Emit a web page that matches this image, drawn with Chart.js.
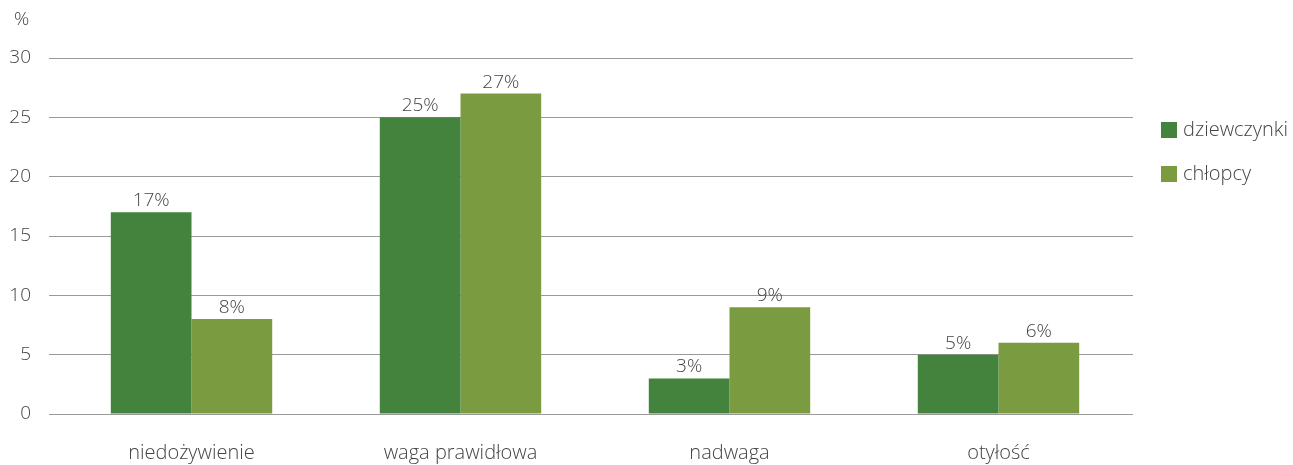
<!DOCTYPE html>
<html>
<head>
<meta charset="utf-8">
<script src="https://cdn.jsdelivr.net/npm/chart.js@4/dist/chart.umd.min.js"></script>
<style>
  html, body { margin: 0; padding: 0; background: #fff; }
  #wrap { width: 1293px; height: 465px; position: relative; }
</style>
</head>
<body>
<div id="wrap"><canvas id="myChart"></canvas></div>
<script>
let categories = ["niedożywienie", "waga prawidłowa", "nadwaga", "otyłość"];
let girls = [17, 25, 3, 5];
let boys = [8, 27, 9, 6];
let y_ticks = [0, 5, 10, 15, 20, 25, 30];

const FONT = "'Open Sans', 'DejaVu Sans', sans-serif";
const TEXT = '#444444';

/** value labels above each bar, e.g. "17%" */
const bar_labels = {
    id: 'bar_labels',
    afterDatasetsDraw(chart) {
        const ctx = chart.ctx;
        ctx.save();
        ctx.font = '300 19px ' + FONT;
        ctx.fillStyle = TEXT;
        ctx.textAlign = 'center';
        ctx.textBaseline = 'bottom';
        chart.data.datasets.forEach((ds, i) => {
            chart.getDatasetMeta(i).data.forEach((bar, j) => {
                ctx.fillText(ds.data[j] + '%', bar.x, bar.y - 2);
            });
        });
        ctx.restore();
    }
};

/** "%" unit on top of the y axis and the legend on the right */
const extras = {
    id: 'extras',
    afterDraw(chart) {
        const ctx = chart.ctx;
        ctx.save();
        ctx.font = '300 19px ' + FONT;
        ctx.fillStyle = TEXT;
        ctx.textAlign = 'left';
        ctx.textBaseline = 'middle';
        ctx.fillText('%', 14, 20);

        ctx.font = '300 20px ' + FONT;
        chart.data.datasets.forEach((ds, i) => {
            let y = 130 + i * 44;
            ctx.fillStyle = ds.backgroundColor;
            ctx.fillRect(1161, y - 8, 16, 16);
            ctx.fillStyle = TEXT;
            ctx.fillText(ds.label, 1183, y);
        });
        ctx.restore();
    }
};

function bar_set(name, values, color) {
    return {
        label: name,
        data: values,
        backgroundColor: color,
        categoryPercentage: 0.6,
        barPercentage: 1.0,
    }
}

let ctx = document.getElementById('myChart').getContext('2d');
let myChart = new Chart(ctx, {
    type: 'bar',
    data: {
        labels: categories,
        datasets: [
            bar_set("dziewczynki", girls, '#43833d'),
            bar_set("chłopcy", boys, '#7a9b3f')
        ]
    },
    options: {
        responsive: true,
        maintainAspectRatio: false,
        animation: false,
        layout: { padding: { top: 58, right: 160, bottom: 0, left: 0 } },
        plugins: {
            legend: { display: false },
            tooltip: { enabled: false }
        },
        scales: {
            x: {
                afterFit(scale) { scale.height = 51; },
                grid: { display: false },
                border: { display: false },
                ticks: {
                    color: TEXT,
                    padding: 19,
                    font: { family: FONT, size: 20, weight: 300 }
                }
            },
            y: {
                min: 0,
                max: 30,
                afterFit(scale) { scale.width = 57; },
                afterBuildTicks(scale) { scale.ticks = y_ticks.map(v => ({ value: v })); },
                grid: { color: '#9a9a9a', lineWidth: 1, tickLength: 8, tickColor: '#9a9a9a' },
                border: { display: false },
                ticks: {
                    color: TEXT,
                    padding: 18,
                    font: { family: FONT, size: 19, weight: 300 }
                }
            }
        }
    },
    plugins: [bar_labels, extras]
});
</script>
</body>
</html>
